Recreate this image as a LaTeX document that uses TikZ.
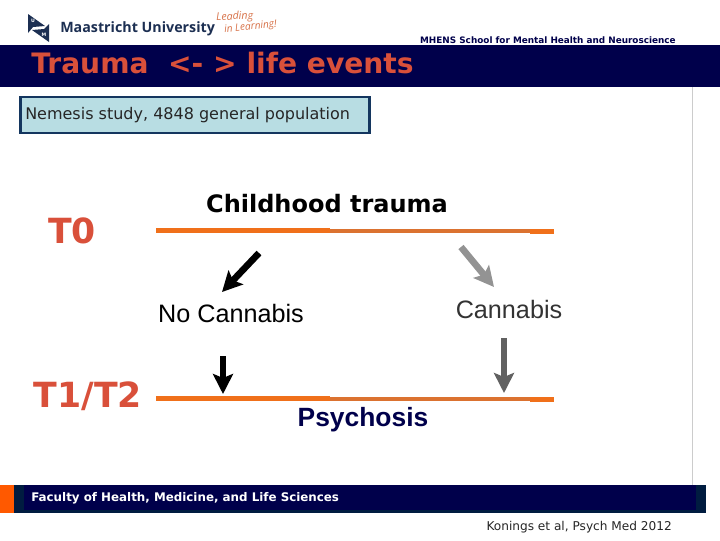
\documentclass[tikz,border=0pt]{standalone}
\usepackage{fontspec}
\setmainfont{DejaVu Sans}
\newfontfamily\armfont{Liberation Sans}
\newfontfamily\logofont{Open Sans}
\usetikzlibrary{arrows.meta,positioning}
\definecolor{bandnavy}{HTML}{00004B}
\definecolor{footedge}{HTML}{001C40}
\definecolor{titlered}{HTML}{D9503A}
\definecolor{boxfill}{HTML}{B8DDE3}
\definecolor{boxedge}{HTML}{14365F}
\definecolor{rulelight}{HTML}{F0701A}
\definecolor{rulemid}{HTML}{DB7230}
\definecolor{logoink}{HTML}{1C2F52}
\definecolor{logoorange}{HTML}{D8734A}
\tikzset{
  armlabel/.style={font=\armfont\fontsize{18.9}{22}\selectfont},
  periodlabel/.style={font=\bfseries\fontsize{26}{30}\selectfont, text=titlered},
  blackarrow/.style={line width=5pt, -{Stealth[length=15pt,width=15pt,inset=3pt]}},
}
\begin{document}
\begin{tikzpicture}[x=0.75pt,y=-0.75pt]
  \useasboundingbox (0,0) rectangle (720,540);
  \fill[white] (0,0) rectangle (720,540);
  % header
  \draw[gray!40, line width=0.75pt] (692,87) -- (692,513);
  \fill[bandnavy] (0,45) rectangle (720,87);
  \node[anchor=west, inner sep=0pt, text=titlered, font=\bfseries\fontsize{21.1}{26}\selectfont] (title) at (31,63) {Trauma\ \ <- > life events};
  \node[anchor=east, inner sep=0pt, text=bandnavy, font=\bfseries\fontsize{6.65}{7}\selectfont] (school) at (676,40) {MHENS School for Mental Health and Neuroscience};
  % logo
  \fill[logoink] (28,14) -- (45,26) -- (33,27) -- (28,33) -- cycle;
  \fill[logoink] (49,24) -- (49,42) -- (32,30) -- (44,29) -- cycle;
  \node[inner sep=0pt, text=white, font=\bfseries\fontsize{3.5}{4}\selectfont] (logou) at (33,21) {U};
  \node[inner sep=0pt, text=white, font=\bfseries\fontsize{3.5}{4}\selectfont] (logom) at (44,35) {M};
  \node[anchor=west, inner sep=0pt, text=logoink, font=\logofont\bfseries\fontsize{10.7}{13}\selectfont] (logotext) at (60,29) {Maastricht University};
  \node[anchor=west, inner sep=0pt, text=logoorange, rotate=3, font=\logofont\itshape\fontsize{8}{8}\selectfont] (lead1) at (216,18) {Leading};
  \node[anchor=west, inner sep=0pt, text=logoorange, rotate=6, font=\logofont\itshape\fontsize{7.6}{8}\selectfont] (lead2) at (224,30) {in Learning!};
  % study box
  \node[draw=boxedge, fill=boxfill, line width=2.2pt, minimum width=262pt, minimum height=27pt, inner sep=0pt] (study) at (195,115) {};
  \node[anchor=west, inner sep=0pt, text=black!85, font=\fontsize{12}{15}\selectfont] (studytext) at (25,115) {Nemesis study, 4848 general population};
  % time points
  \node[periodlabel] (tzero) at (72,231) {T0};
  \node[periodlabel] (tone) at (88,396) {T1/T2};
  \node[font=\bfseries\fontsize{18}{22}\selectfont] (trauma) at (327,204) {Childhood trauma};
  \node[armlabel] (nocan) at (231,313) {No Cannabis};
  \node[armlabel, text=black!80] (can) at (509,309) {Cannabis};
  \node[text=bandnavy, font=\armfont\bfseries\fontsize{19.8}{22}\selectfont] (psy) at (363,420) {Psychosis};
  % rules
  \foreach \y/\name in {230.5/top, 398.3/bot}{
    \coordinate (\name a) at (156,\y);
    \coordinate (\name b) at (330,\y);
    \coordinate (\name c) at (330,\y+0.5);
    \coordinate (\name d) at (530,\y+0.5);
    \coordinate (\name e) at (530,\y+1);
    \coordinate (\name f) at (554,\y+1);
    \draw[rulelight, line width=3.7pt] (\name a) -- (\name b);
    \draw[rulemid, line width=3pt] (\name c) -- (\name d);
    \draw[rulelight, line width=3.7pt] (\name e) -- (\name f);
  }
  % arrows
  \coordinate (nostart) at (259,253);
  \coordinate (noend) at (222,292);
  \coordinate (canstart) at (461,247);
  \coordinate (canend) at (494,287);
  \coordinate (downa) at (223,356);
  \coordinate (downb) at (223,394);
  \coordinate (downc) at (504,338);
  \coordinate (downd) at (504,393);
  \draw[blackarrow] (nostart) -- (noend);
  \draw[blackarrow, gray!85] (canstart) -- (canend);
  \draw[blackarrow] (downa) -- (downb);
  \draw[blackarrow, black!62] (downc) -- (downd);
  % footer
  \fill[footedge] (14,485) rectangle (706,513);
  \fill[bandnavy] (24,485) rectangle (696,510);
  \fill[orange!70!red] (0,485) rectangle (14,513);
  \node[anchor=west, inner sep=0pt, text=white, font=\bfseries\fontsize{8.9}{11}\selectfont] (faculty) at (31,498) {Faculty of Health, Medicine, and Life Sciences};
  \node[anchor=east, inner sep=0pt, text=black!85, font=\fontsize{9.1}{11}\selectfont] (cite) at (672,527) {Konings et al, Psych Med 2012};
\end{tikzpicture}
\end{document}
